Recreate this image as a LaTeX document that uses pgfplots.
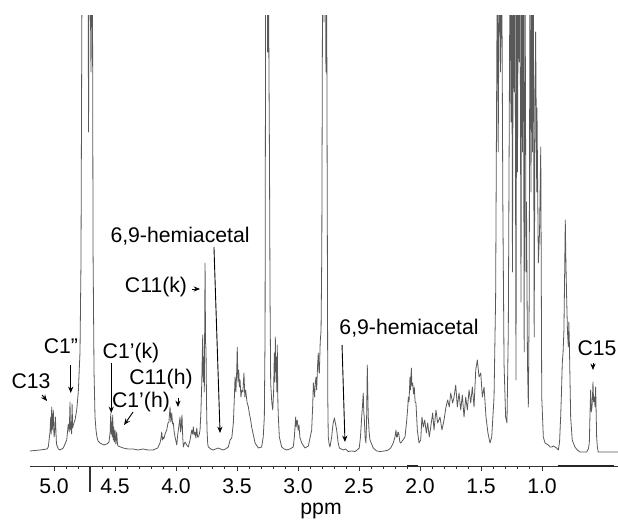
\documentclass[border=0pt]{standalone}
\usepackage{fontspec}
\setmainfont{Liberation Sans}
\usepackage{pgfplots}
\pgfplotsset{compat=1.18}
\usetikzlibrary{arrows.meta}
\newcommand{\lbl}{\fontsize{10.6pt}{12pt}\selectfont}
\begin{document}
\begin{tikzpicture}[ann/.style={-{Stealth[length=3.2pt,width=2.6pt]}, line width=0.45pt, black}]
\useasboundingbox (0,0) rectangle (309pt,260pt);
\begin{axis}[
  at={(15pt,26.5pt)}, anchor=south west,
  scale only axis, width=294pt, height=225.5pt,
  x dir=reverse, xmin=0.377, xmax=5.197, ymin=-15, ymax=436,
  axis x line*=bottom, axis y line=none,
  clip mode=individual,
  xtick={1,1.5,2,2.5,3,3.5,4,4.5,5}, minor x tick num=4,
  tick align=outside, major tick length=2pt, minor tick length=1.2pt,
  x axis line style={line width=0.5pt, black!80},
  tick style={black!80, line width=0.4pt},
  /pgf/number format/assume math mode=true,
  xticklabel style={font=\lbl, anchor=base, yshift=-11.5pt, /pgf/number format/.cd, fixed, fixed zerofill, precision=1},
  xlabel={ppm},
  xlabel style={font=\lbl, at={(axis description cs:0.495,0)}, anchor=base, yshift=-24pt},
]
\addplot[line width=0.4pt, black!65, line join=round] coordinates {
(5.197,1)(5.115,2)(5.057,3)(5.047,5)(5.033,20)(5.027,35)(5.023,18)(5.019,45)(5.015,22)(5.012,25)(5.006,42)(5.000,15)(4.994,20)(4.989,35)(4.980,8)(4.965,3)(4.951,2)
(4.924,4)(4.896,12)(4.883,28)(4.875,20)(4.869,50)(4.865,22)(4.861,30)(4.856,18)(4.852,48)(4.847,24)(4.842,27)(4.828,32)(4.814,42)(4.801,60)(4.787,100)(4.779,190)(4.770,500)
(4.762,500)(4.754,500)(4.746,500)(4.738,500)(4.729,500)(4.721,500)(4.717,320)(4.713,500)(4.705,500)(4.697,380)(4.689,500)(4.684,420)(4.680,200)(4.672,80)(4.664,35)(4.656,22)(4.648,15)(4.639,11)(4.623,9)(4.590,7)(4.566,8)(4.549,10)
(4.540,20)(4.535,39)(4.531,18)(4.527,30)(4.523,15)(4.519,37)(4.514,12)(4.511,25)(4.505,10)(4.500,22)(4.493,8)(4.486,20)(4.480,8)(4.475,6)(4.434,4)(4.393,3)(4.352,3)(4.311,2)(4.270,3)(4.230,2)(4.189,2)(4.150,4)
(4.131,9)(4.123,14)(4.117,20)(4.112,12)(4.107,15)(4.100,13)(4.090,18)(4.076,22)(4.066,29)(4.058,30)(4.049,45)(4.042,30)(4.035,39)(4.028,28)(4.022,29)(4.015,20)(4.008,15)(3.994,7)(3.988,15)(3.981,22)(3.974,28)(3.967,35)(3.963,20)(3.959,22)(3.955,30)(3.951,37)(3.945,15)(3.940,5)(3.933,8)(3.926,10)(3.912,7)(3.899,5)(3.885,12)(3.871,22)(3.864,18)(3.858,25)(3.851,17)(3.844,20)(3.837,14)(3.830,24)(3.823,15)(3.816,15)(3.809,18)(3.803,22)
(3.796,40)(3.789,69)(3.785,95)(3.781,117)(3.777,70)(3.773,95)(3.768,60)(3.762,189)(3.758,110)(3.754,102)(3.750,50)(3.746,22)(3.740,8)(3.735,5)(3.715,3)(3.694,2)(3.675,3)(3.656,4)(3.635,3)(3.615,2)(3.594,3)(3.571,5)
(3.557,12)(3.543,14)(3.530,29)(3.523,50)(3.516,75)(3.509,60)(3.502,82)(3.498,105)(3.492,70)(3.486,82)(3.480,65)(3.475,72)(3.468,55)(3.461,62)(3.452,60)(3.443,79)(3.436,55)(3.429,62)(3.418,50)(3.407,45)(3.398,38)(3.388,32)(3.380,25)(3.371,20)(3.352,9)(3.325,4)(3.298,5)
(3.285,15)(3.276,35)(3.270,120)(3.265,500)(3.260,500)(3.254,500)(3.249,400)(3.243,500)(3.238,380)(3.234,299)(3.229,150)(3.224,69)(3.215,50)(3.207,42)(3.200,60)(3.194,99)(3.190,70)(3.186,115)(3.182,80)(3.178,95)(3.174,60)(3.170,107)(3.165,50)(3.161,35)(3.153,15)(3.134,5)(3.113,3)(3.093,2)(3.066,3)(3.039,5)
(3.030,15)(3.019,35)(3.015,25)(3.011,30)(3.006,32)(2.999,22)(2.992,27)(2.985,15)(2.970,9)(2.943,4)(2.915,6)(2.900,15)(2.888,22)(2.880,45)(2.874,69)(2.864,55)(2.858,70)(2.852,75)(2.847,62)(2.840,85)(2.834,99)(2.828,80)(2.825,79)(2.818,110)(2.811,122)(2.805,200)
(2.798,500)(2.792,500)(2.787,430)(2.782,500)(2.776,500)(2.771,380)(2.766,500)(2.760,242)(2.756,55)(2.752,15)(2.745,8)(2.738,5)(2.724,15)(2.713,28)(2.702,34)(2.692,28)(2.683,22)(2.672,10)(2.661,4)(2.645,3)(2.629,2)(2.610,3)(2.588,0.5)(2.560,1)(2.533,0.5)(2.515,2)(2.498,4)
(2.488,15)(2.478,35)(2.472,45)(2.465,59)(2.461,40)(2.457,35)(2.450,15)(2.443,9)(2.438,30)(2.432,87)(2.428,60)(2.424,35)(2.417,20)(2.410,12)(2.383,4)(2.355,1)(2.328,0.5)(2.290,1)(2.260,2)(2.240,4)(2.219,9)(2.205,15)(2.197,22)(2.192,15)(2.186,15)(2.181,20)(2.175,19)(2.165,10)(2.158,9)(2.140,12)
(2.123,15)(2.110,30)(2.100,45)(2.096,55)(2.090,50)(2.082,75)(2.078,62)(2.071,84)(2.066,66)(2.060,69)(2.053,58)(2.047,65)(2.040,50)(2.033,49)(2.022,22)(2.008,9)
(1.994,12)(1.984,35)(1.973,25)(1.961,32)(1.948,19)(1.937,29)(1.924,15)(1.912,25)(1.896,39)(1.885,22)(1.869,42)(1.855,29)(1.836,35)(1.820,22)(1.803,32)(1.787,45)(1.773,52)(1.760,45)(1.748,59)(1.732,49)(1.721,55)(1.707,67)(1.694,45)(1.680,59)(1.666,42)(1.653,57)(1.639,35)(1.625,55)(1.612,42)(1.598,62)(1.584,49)(1.571,65)(1.557,45)(1.543,82)(1.530,92)(1.516,75)(1.502,79)(1.489,55)(1.475,65)(1.459,35)(1.443,19)(1.426,9)(1.412,15)
(1.393,55)(1.380,155)(1.366,500)(1.359,300)(1.350,500)(1.340,380)(1.330,500)(1.321,250)(1.311,88)(1.298,35)(1.287,29)(1.276,122)(1.262,500)(1.254,330)(1.248,500)(1.242,180)(1.235,500)(1.228,360)(1.221,500)(1.213,72)(1.207,500)(1.201,280)(1.194,500)(1.187,390)(1.180,500)(1.172,150)(1.166,500)(1.160,300)(1.153,500)(1.146,100)(1.139,500)(1.131,180)(1.127,250)(1.119,90)(1.112,45)(1.105,150)(1.098,500)(1.090,260)(1.084,500)(1.078,300)(1.071,500)(1.064,115)(1.057,350)(1.052,420)(1.043,260)(1.041,344)(1.030,189)(1.020,220)(1.010,305)(1.002,55)(0.989,15)
(0.975,9)(0.962,8)(0.948,7)(0.934,5)(0.920,5)(0.906,6)(0.893,5)(0.880,4)(0.866,2)(0.856,10)(0.847,35)(0.840,60)(0.834,88)(0.827,100)(0.820,122)(0.814,180)(0.809,232)(0.804,190)(0.798,155)(0.791,120)(0.784,105)(0.780,130)(0.776,112)(0.770,70)(0.765,35)(0.752,12)(0.730,5)(0.710,2)(0.689,0)(0.660,0)(0.634,0)
(0.620,3)(0.612,9)(0.606,40)(0.601,62)(0.596,40)(0.590,45)(0.586,55)(0.582,70)(0.577,50)(0.571,55)(0.565,45)(0.560,65)(0.556,40)(0.552,15)(0.546,5)(0.539,0)(0.498,0)(0.393,0)(0.377,0)
};
\node[font=\lbl] at (axis cs:5.189,71) {C13};
\draw[ann] (axis cs:5.098,57) -- (axis cs:5.057,51);
\node[font=\lbl] at (axis cs:4.943,106) {C1”};
\draw[ann] (axis cs:4.863,87) -- (axis cs:4.863,59);
\node[font=\lbl] at (axis cs:4.369,99) {C1’(k)};
\draw[ann] (axis cs:4.531,89) -- (axis cs:4.531,39);
\node[font=\lbl] at (axis cs:4.287,50) {C1’(h)};
\draw[ann] (axis cs:4.352,40) -- (axis cs:4.426,27);
\node[font=\lbl] at (axis cs:4.123,73) {C11(h)};
\draw[ann] (axis cs:3.984,54) -- (axis cs:3.984,45);
\node[font=\lbl] at (axis cs:4.164,165) {C11(k)};
\draw[ann] (axis cs:3.869,163) -- (axis cs:3.803,163);
\node[font=\lbl] at (axis cs:3.967,216) {6,9-hemiacetal};
\draw[ann] (axis cs:3.689,205) -- (axis cs:3.639,19);
\node[font=\lbl] at (axis cs:2.090,124) {6,9-hemiacetal};
\draw[ann] (axis cs:2.639,107) -- (axis cs:2.615,10);
\node[font=\lbl] at (axis cs:0.549,104) {C15};
\draw[ann] (axis cs:0.582,89) -- (axis cs:0.582,82);
\draw[line width=0.6pt, black!80] (axis cs:4.705,-15) -- (axis cs:4.705,-40);
\draw[line width=0.9pt, black!85] (axis cs:0.869,-14) -- (axis cs:0.410,-14);
\draw[line width=0.9pt, black!85] (axis cs:2.107,-14) -- (axis cs:2.016,-14);
\end{axis}
\end{tikzpicture}
\end{document}
